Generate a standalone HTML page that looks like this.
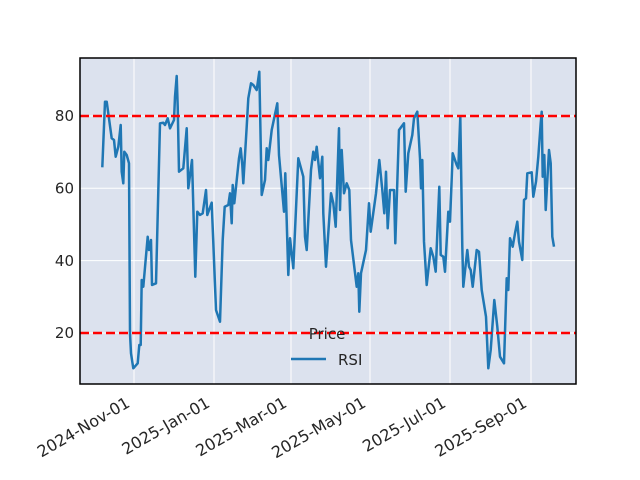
<!DOCTYPE html>
<html><head><meta charset="utf-8"><style>body{margin:0;background:#fff}svg{display:block}</style></head><body>
<svg width="640" height="480" viewBox="0 0 640 480" xmlns="http://www.w3.org/2000/svg" font-family="DejaVu Sans, sans-serif">
<rect x="0" y="0" width="640" height="480" fill="#fff"/>
<rect x="80" y="58" width="496" height="326" fill="#dce2ee"/>
<g stroke="#fff" stroke-width="1">
<line x1="134" y1="58" x2="134" y2="384"/><line x1="214" y1="58" x2="214" y2="384"/><line x1="291" y1="58" x2="291" y2="384"/><line x1="370" y1="58" x2="370" y2="384"/><line x1="450" y1="58" x2="450" y2="384"/><line x1="531" y1="58" x2="531" y2="384"/>
<line x1="80" y1="333" x2="576" y2="333"/><line x1="80" y1="260.6" x2="576" y2="260.6"/><line x1="80" y1="188.3" x2="576" y2="188.3"/><line x1="80" y1="116" x2="576" y2="116"/>
</g>
<polyline fill="none" stroke="#1f77b4" stroke-width="2.5" stroke-linejoin="round" points="102.3,167.3 105,101.7 106.7,101.7 111.7,138.3 114,140 115.7,156.7 118.3,146.7 120.7,125 121.7,171.7 123.3,183.3 124.3,151.7 126.7,155 129,163.3 130,333.3 131,353.3 133.3,368.3 137.7,363.3 139.3,345 140.7,345 141.7,280 143.3,286.7 147.7,236.7 149,250 151,240 152,285 156,283.3 160,123.3 163.3,122.7 165,125 167.7,118.3 170,128.3 174,120 175,96.7 176.7,76 177.7,106.7 179,171.7 183.3,168.3 186.7,128.3 188.3,188.3 192,160 195.3,276.7 197.3,211.7 200,215 202.7,213.3 206,190 207.3,215 211.7,202.7 216,310 220,321.7 222.7,240 224.7,206.7 228.3,205 230,193.3 231.7,223.3 232.7,185 234.3,203.3 239,158.3 240.7,148.3 242.3,165 243.3,183.3 246.7,126.7 248.3,98.3 251,83.3 253.3,85 256.7,90 259.3,71.7 261.7,195 265,180 266.7,148.3 268.3,160 271.7,130 277.3,103.3 279,155 284,211.7 285.3,173.3 288.3,275 290,238.3 293.3,268.3 298.3,158.3 303.3,176.7 305,236.7 306.7,250 311,170 313.3,151.7 315,160 316.7,146.7 320,178.3 322.3,156.7 323.3,213.3 326,266.7 331,193.3 333.3,203.3 335.7,226.7 339,128.3 340,210 341.7,150 344,193.3 346.7,183.3 349.3,190 351,240 356.7,286.7 358.3,273.3 359.3,311.7 361,273.3 366,250 369,203.3 370.7,231.7 376,193.3 379.3,160 382.3,190 384.3,213.3 386,171.7 387.7,228.3 390,190 394,190 395.3,243.3 399,130 404,123.3 405.7,191.7 408.3,153.3 412.3,135 414,118.3 417.3,111.7 420,158.3 421,188.3 422.3,160 424,241.7 426.7,285 430.7,248.3 433.3,256.7 435.7,271.7 439.3,186.7 440.7,255 443.3,256.7 445,271.7 448.3,211.7 450,221.7 452.7,153.3 456.7,165 458.3,168.3 460.3,116.7 462.3,246.7 463.3,286.7 467.3,250 469,266.7 470.7,270 472.7,286.7 476.7,250 479,251.7 481.7,290 486,316.7 488.3,368.3 490.7,350 494.3,300 497.3,326.7 500,356.7 504,363.3 506.7,278.3 508.3,290 510,238.3 512.7,246.7 515,233.3 517.3,221.7 519,241.7 522.3,260 524,200 526,198.3 527.3,173.3 531.7,172.3 533.3,196.7 536,181.7 538.3,156.7 540.7,123.3 541.7,111.7 542.7,176.7 544.3,155 545.7,210 549,150 550.7,163.3 552.3,236.7 554,246.7"/>
<g stroke="#ff0000" stroke-width="2.5" stroke-dasharray="9,4">
<line x1="80" y1="116" x2="576" y2="116"/><line x1="80" y1="333" x2="576" y2="333"/>
</g>
<rect x="80" y="58" width="496" height="326" fill="none" stroke="#000" stroke-width="1.5"/>
<g font-size="15" fill="#262626" text-anchor="end">
<text x="74" y="338">20</text><text x="74" y="266">40</text><text x="74" y="193.5">60</text><text x="74" y="121">80</text>
</g>
<g font-size="16" fill="#262626" text-anchor="end">
<text transform="translate(131,406) rotate(-30)">2024-Nov-01</text>
<text transform="translate(211,406) rotate(-30)">2025-Jan-01</text>
<text transform="translate(288,406) rotate(-30)">2025-Mar-01</text>
<text transform="translate(367,406) rotate(-30)">2025-May-01</text>
<text transform="translate(447,406) rotate(-30)">2025-Jul-01</text>
<text transform="translate(528,406) rotate(-30)">2025-Sep-01</text>
</g>
<text x="327" y="339" font-size="15" fill="#262626" text-anchor="middle">Price</text>
<line x1="291" y1="359" x2="326" y2="359" stroke="#1f77b4" stroke-width="2.5"/>
<text x="338" y="365" font-size="15" fill="#262626">RSI</text>
</svg>
</body></html>
